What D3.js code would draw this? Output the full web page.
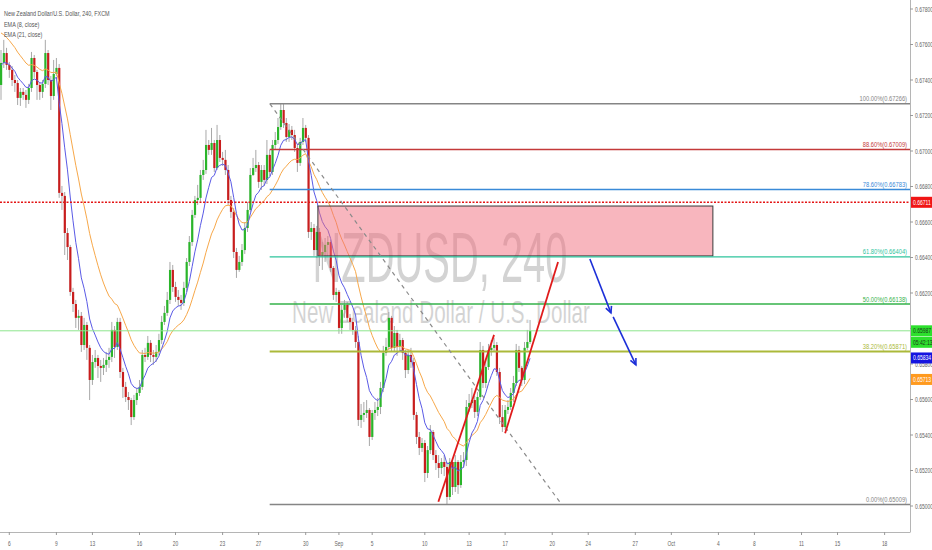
<!DOCTYPE html>
<html><head><meta charset="utf-8">
<script src="https://cdn.jsdelivr.net/npm/d3@7"></script>
<style>html,body{margin:0;padding:0;background:#fff;overflow:hidden}</style>
</head><body><svg id="c" width="932" height="550"></svg>
<script>
// ---------- DATA ----------
const title = "New Zealand Dollar/U.S. Dollar, 240, FXCM";
const legendLines = ["EMA (8, close)", "EMA (21, close)"];
const watermark1 = "NZDUSD, 240";
const watermark2 = "New Zealand Dollar / U.S. Dollar";

const firstOpen = 0.67372;
const closes = [
0.67496,0.67552,0.67485,0.67457,0.67400,0.67383,0.67299,0.67333,0.67316,0.67288,
0.67355,0.67524,0.67445,0.67372,0.67333,0.67378,0.67552,0.67400,0.67310,0.67434,
0.67468,0.66764,0.66747,0.66538,0.66459,0.66206,0.66138,0.66060,0.66071,0.65907,
0.66020,0.65891,0.65710,0.65811,0.65834,0.65789,0.65778,0.65795,0.65823,0.65840,
0.65992,0.65896,0.66037,0.65755,0.65671,0.65614,0.65597,0.65501,0.65597,0.65637,
0.65671,0.65851,0.65840,0.65919,0.65851,0.65840,0.65868,0.65935,0.66037,0.66088,
0.66161,0.66330,0.66234,0.66178,0.66161,0.66144,0.66229,0.66375,0.66487,0.66640,
0.66724,0.66736,0.66865,0.66893,0.67034,0.67006,0.67045,0.66904,0.67062,0.66961,
0.66950,0.66893,0.66724,0.66657,0.66431,0.66330,0.66375,0.66442,0.66566,0.66668,
0.66865,0.66904,0.66921,0.66826,0.66893,0.66837,0.66978,0.66882,0.67034,0.67062,
0.67135,0.67231,0.67158,0.67079,0.67119,0.67090,0.67017,0.66933,0.67051,0.67130,
0.67074,0.66544,0.66566,0.66442,0.66544,0.66414,0.66431,0.66471,0.66487,0.66341,
0.66189,0.66206,0.66003,0.66105,0.66133,0.66060,0.66037,0.65992,0.65924,0.65485,
0.65513,0.65524,0.65541,0.65389,0.65524,0.65541,0.65558,0.65665,0.65863,0.65896,
0.66060,0.65891,0.65975,0.65896,0.65935,0.65863,0.65766,0.65851,0.65811,0.65513,
0.65389,0.65327,0.65355,0.65186,0.65315,0.65417,0.65287,0.65242,0.65214,0.65248,
0.65220,0.65051,0.65248,0.65107,0.65248,0.65118,0.65248,0.65259,0.65558,0.65580,
0.65597,0.65530,0.65614,0.65879,0.65693,0.65783,0.65879,0.65891,0.65907,0.65755,
0.65501,0.65445,0.65541,0.65558,0.65637,0.65693,0.65879,0.65778,0.65710,0.65891,
0.65924,0.65987];
const highs = [
0.67569,0.67626,0.67581,0.67502,0.67479,0.67428,0.67400,0.67355,0.67355,0.67344,
0.67378,0.67558,0.67541,0.67457,0.67389,0.67400,0.67626,0.67569,0.67423,0.67513,
0.67524,0.67490,0.66803,0.66769,0.66566,0.66471,0.66229,0.66161,0.66105,0.66093,
0.66060,0.66037,0.65907,0.65851,0.65879,0.65851,0.65823,0.65834,0.65868,0.65891,
0.66037,0.66014,0.66060,0.66060,0.65778,0.65699,0.65642,0.65609,0.65626,0.65665,
0.65710,0.65879,0.65891,0.65958,0.65935,0.65879,0.65907,0.65970,0.66071,0.66127,
0.66206,0.66375,0.66358,0.66263,0.66217,0.66189,0.66263,0.66397,0.66521,0.66668,
0.66747,0.66809,0.66893,0.66950,0.67119,0.67062,0.67130,0.67062,0.67147,0.67090,
0.66995,0.67006,0.66921,0.66747,0.66679,0.66454,0.66409,0.66476,0.66600,0.66713,
0.66904,0.66961,0.67006,0.66938,0.66921,0.66921,0.67062,0.67006,0.67062,0.67107,
0.67186,0.67265,0.67266,0.67186,0.67152,0.67141,0.67119,0.67040,0.67074,0.67186,
0.67147,0.67090,0.66600,0.66589,0.66578,0.66566,0.66487,0.66510,0.66521,0.66499,
0.66352,0.66229,0.66217,0.66133,0.66161,0.66150,0.66082,0.66060,0.66014,0.65958,
0.65575,0.65586,0.65597,0.65552,0.65541,0.65586,0.65609,0.65699,0.65902,0.65947,
0.66093,0.66071,0.66014,0.65992,0.65970,0.65947,0.65879,0.65879,0.65891,0.65834,
0.65530,0.65417,0.65383,0.65372,0.65338,0.65456,0.65428,0.65315,0.65287,0.65270,
0.65287,0.65248,0.65270,0.65259,0.65287,0.65259,0.65287,0.65304,0.65597,0.65631,
0.65665,0.65620,0.65642,0.65924,0.65902,0.65823,0.65913,0.65935,0.65947,0.65924,
0.65778,0.65569,0.65569,0.65597,0.65665,0.65733,0.65913,0.65902,0.65789,0.65924,
0.65992,0.66048];
const lows = [
0.67288,0.67468,0.67457,0.67412,0.67366,0.67333,0.67259,0.67254,0.67288,0.67243,
0.67265,0.67333,0.67412,0.67288,0.67288,0.67299,0.67355,0.67372,0.67231,0.67288,
0.67423,0.66736,0.66668,0.66414,0.66386,0.66184,0.66093,0.66003,0.65992,0.65868,
0.65879,0.65823,0.65597,0.65682,0.65778,0.65721,0.65699,0.65738,0.65755,0.65778,
0.65811,0.65834,0.65879,0.65721,0.65609,0.65586,0.65541,0.65456,0.65485,0.65569,
0.65620,0.65654,0.65811,0.65823,0.65811,0.65795,0.65811,0.65851,0.65913,0.66020,
0.66071,0.66138,0.66206,0.66150,0.66127,0.66105,0.66127,0.66206,0.66352,0.66465,
0.66623,0.66696,0.66713,0.66837,0.66871,0.66978,0.66978,0.66882,0.66893,0.66938,
0.66916,0.66865,0.66696,0.66623,0.66397,0.66285,0.66319,0.66352,0.66420,0.66544,
0.66657,0.66859,0.66882,0.66792,0.66781,0.66803,0.66814,0.66859,0.66865,0.67006,
0.67040,0.67119,0.67130,0.67051,0.67051,0.67062,0.66995,0.66882,0.66916,0.67034,
0.67051,0.66510,0.66499,0.66409,0.66397,0.66352,0.66330,0.66375,0.66409,0.66319,
0.66161,0.66150,0.65970,0.65970,0.66060,0.66037,0.65992,0.65964,0.65891,0.65451,
0.65440,0.65473,0.65496,0.65338,0.65372,0.65485,0.65507,0.65518,0.65642,0.65846,
0.65879,0.65868,0.65868,0.65846,0.65879,0.65823,0.65721,0.65744,0.65778,0.65485,
0.65349,0.65287,0.65304,0.65135,0.65158,0.65293,0.65259,0.65203,0.65158,0.65180,
0.65169,0.65009,0.65034,0.65062,0.65079,0.65068,0.65102,0.65214,0.65225,0.65530,
0.65552,0.65496,0.65507,0.65597,0.65665,0.65665,0.65766,0.65846,0.65868,0.65733,
0.65462,0.65417,0.65428,0.65518,0.65541,0.65586,0.65676,0.65755,0.65676,0.65687,
0.65879,0.65913];

const ema8Seed = 0.67479;
const ema21Seed = 0.67682;

const priceTicks = [0.650,0.652,0.654,0.656,0.658,0.660,0.662,0.664,0.666,0.668,0.670,0.672,0.674,0.676,0.678];
const dateTickBars = [3,20,33,50,63,80,93,110,122,134,153,169,182,199,212,229,242,259,272,289,302,319];
const dateTickLabels = ["6","9","13","16","20","23","27","30","Sep","5","10","13","17","20","24","27","Oct","4","8","11","15","18"];

const fibStartBar = 97;
const fibPct = ["100.00%","88.60%","78.60%","61.80%","50.00%","38.20%","0.00%"];
const fibVal = [0.67266,0.67009,0.66783,0.66404,0.66138,0.65871,0.65009];

const zoneBars = [114.4, 257];
const zonePrices = [0.66690, 0.66409];
const redLevel = 0.66711;
const lastPrice = 0.65987;
const countdown = "05:42:13";
const ema8Last = 0.65834;
const ema21Last = 0.65713;

const dashedLine = [[97.1,0.67265],[202.5,0.65006]];
const trendLine1 = [[157.9,0.65024],[178.0,0.65964]];
const trendLine2 = [[182.0,0.65410],[201.1,0.66375]];
const arrow1 = [[212.6,0.66392],[220.2,0.66088]];
const arrow2 = [[221.0,0.66065],[229.2,0.65795]];

// ---------- STYLE ----------
const W = 932, H = 550, axisX = 910, axisY = 532;
const SX = 0.7;
const FONT = "Liberation Sans, Arial, sans-serif";
const fibColors = ["#858585","#c43a3a","#3a8ad8","#2ec49c","#35b24a","#abb93a","#858585"];
const fibWidths = [1.5,1.5,1.4,1.3,1.5,2,1.5];

const svg = d3.select("#c");
const x = d3.scaleLinear().domain([0, 328.2]).range([1, axisX + 0.1]);
const y = d3.scaleLinear().domain([0.650, 0.678]).range([506, 9]);

function txt(sel, px, py, s, o = {}) {
  return sel.append("text")
    .attr("transform", `translate(${px},${py}) scale(${o.sx || SX},1)`)
    .attr("text-anchor", o.anchor || "start")
    .attr("font-size", o.size || 8)
    .attr("font-family", FONT)
    .attr("fill", o.color || "#555")
    .attr("opacity", o.opacity == null ? 1 : o.opacity)
    .text(s);
}

// build table
const bars = closes.map((c, i) => {
  const o = i === 0 ? firstOpen : closes[i - 1];
  return { i, o, c, h: Math.max(highs[i], o, c), l: Math.min(lows[i], o, c) };
});
const ema = (seed, n) => { const a = 2 / (n + 1); let e = seed; return closes.map(c => (e = a * c + (1 - a) * e)); };
const ema8 = ema(ema8Seed, 8), ema21 = ema(ema21Seed, 21);

// clip
svg.append("defs").append("clipPath").attr("id", "plot")
  .append("rect").attr("x", 0).attr("y", 0).attr("width", axisX).attr("height", axisY);
const plot = svg.append("g").attr("clip-path", "url(#plot)");

// watermark
txt(plot, 440, 282, watermark1, { size: 70, sx: 0.57, anchor: "middle", color: "#000", opacity: 0.17 });
txt(plot, 441, 323, watermark2, { size: 31, sx: 0.665, anchor: "middle", color: "#000", opacity: 0.17 });

// candles
const cg = plot.append("g");
cg.selectAll("line.w").data(bars).join("line")
  .attr("x1", d => x(d.i)).attr("x2", d => x(d.i))
  .attr("y1", d => y(d.h)).attr("y2", d => y(d.l))
  .attr("stroke", "#a8a8a8").attr("stroke-width", 1);
cg.selectAll("rect.b").data(bars).join("rect")
  .attr("x", d => x(d.i) - 1).attr("width", 2.2)
  .attr("y", d => y(Math.max(d.o, d.c)))
  .attr("height", d => Math.max(1, Math.abs(y(d.o) - y(d.c))))
  .attr("fill", d => d.c >= d.o ? "#2ab52a" : "#c81d1d");

// EMAs
const lineGen = d3.line().x((d, i) => x(i)).y(d => y(d));
plot.append("path").attr("d", lineGen(ema21)).attr("fill", "none").attr("stroke", "#f7a84a").attr("stroke-width", 1);
plot.append("path").attr("d", lineGen(ema8)).attr("fill", "none").attr("stroke", "#5a5ae6").attr("stroke-width", 1);

// supply zone
plot.append("rect")
  .attr("x", x(zoneBars[0])).attr("width", x(zoneBars[1]) - x(zoneBars[0]))
  .attr("y", y(zonePrices[0])).attr("height", y(zonePrices[1]) - y(zonePrices[0]))
  .attr("fill", "rgba(242,110,125,0.5)").attr("stroke", "#3a3a3a").attr("stroke-width", 1);

// fib levels
fibVal.forEach((v, k) => {
  plot.append("line").attr("x1", x(fibStartBar)).attr("x2", axisX)
    .attr("y1", y(v)).attr("y2", y(v))
    .attr("stroke", fibColors[k]).attr("stroke-width", fibWidths[k]);
  txt(plot, 907, y(v) - 2.5, `${fibPct[k]}(${v.toFixed(5)})`, { size: 8, sx: 0.72, anchor: "end", color: fibColors[k] });
});

// horizontal red dotted level
plot.append("line").attr("x1", 0).attr("x2", axisX).attr("y1", y(redLevel)).attr("y2", y(redLevel))
  .attr("stroke", "#e41414").attr("stroke-width", 1.5).attr("stroke-dasharray", "2,1.5");
// last price line
plot.append("line").attr("x1", 0).attr("x2", axisX).attr("y1", y(lastPrice)).attr("y2", y(lastPrice))
  .attr("stroke", "#8de58d").attr("stroke-width", 1);

// dashed diagonal
const pl = d3.line().x(d => x(d[0])).y(d => y(d[1]));
plot.append("path").attr("d", pl(dashedLine)).attr("stroke", "#8a8a8a").attr("stroke-width", 1.2)
  .attr("stroke-dasharray", "4,4").attr("fill", "none");
// red trend lines
[trendLine1, trendLine2].forEach(t => plot.append("path").attr("d", pl(t))
  .attr("stroke", "#e01b1b").attr("stroke-width", 1.8).attr("fill", "none"));
// blue arrows
[arrow1, arrow2].forEach(a => {
  const x1 = x(a[0][0]), y1 = y(a[0][1]), x2 = x(a[1][0]), y2 = y(a[1][1]);
  const ang = Math.atan2(y2 - y1, x2 - x1), L = 7, s = 0.45;
  plot.append("line").attr("x1", x1).attr("y1", y1).attr("x2", x2).attr("y2", y2)
    .attr("stroke", "#1c2fd8").attr("stroke-width", 1.6);
  plot.append("path")
    .attr("d", `M${x2 - L * Math.cos(ang - s)},${y2 - L * Math.sin(ang - s)}L${x2},${y2}L${x2 - L * Math.cos(ang + s)},${y2 - L * Math.sin(ang + s)}`)
    .attr("stroke", "#1c2fd8").attr("stroke-width", 1.6).attr("fill", "none");
});

// axes
svg.append("line").attr("x1", axisX + 0.5).attr("x2", axisX + 0.5).attr("y1", 0).attr("y2", axisY)
  .attr("stroke", "#b5b5b5").attr("stroke-width", 1);
svg.append("line").attr("x1", 0).attr("x2", axisX + 0.5).attr("y1", axisY + 0.5).attr("y2", axisY + 0.5)
  .attr("stroke", "#b5b5b5").attr("stroke-width", 1);

// axis markers (value boxes on the price scale)
const markers = [
  { v: redLevel, bg: "#f01515", s: redLevel.toFixed(5), fg: "#fff", dy: 0 },
  { v: lastPrice, bg: "#2de02d", s: lastPrice.toFixed(5), fg: "#1a3a1a", dy: 0 },
  { v: lastPrice, bg: "#2de02d", s: countdown, fg: "#1a3a1a", dy: 11.5 },
  { v: ema8Last, bg: "#1515e0", s: ema8Last.toFixed(5), fg: "#fff", dy: 0 },
  { v: ema21Last, bg: "#ff9a1f", s: ema21Last.toFixed(5), fg: "#fff", dy: 0 }
];
const covered = v => markers.some(m => Math.abs(y(m.v) + m.dy - y(v)) < 6);

priceTicks.forEach(v => {
  svg.append("line").attr("x1", axisX).attr("x2", axisX + 3).attr("y1", y(v)).attr("y2", y(v)).attr("stroke", "#999");
  if (!covered(v)) txt(svg, 915, y(v) + 2.5, v.toFixed(5), { size: 7, sx: 0.72, color: "#666" });
});
dateTickBars.forEach((b, k) => {
  svg.append("line").attr("x1", x(b)).attr("x2", x(b)).attr("y1", axisY).attr("y2", axisY + 3).attr("stroke", "#999");
  txt(svg, x(b), 546, dateTickLabels[k], { size: 7, sx: 0.7, anchor: "middle", color: "#666" });
});
markers.forEach(m => {
  const cy = y(m.v) + m.dy;
  svg.append("rect").attr("x", 911).attr("y", cy - 5.5).attr("width", 21).attr("height", 11).attr("fill", m.bg);
  txt(svg, 913, cy + 2.5, m.s, { size: 7, sx: 0.72, color: m.fg });
});

// legend
txt(svg, 4, 16, title, { size: 8, sx: 0.68, color: "#555" });
legendLines.forEach((s, k) => txt(svg, 4, 26.5 + k * 10.5, s, { size: 8, sx: 0.68, color: "#555" }));
</script>
</body></html>
